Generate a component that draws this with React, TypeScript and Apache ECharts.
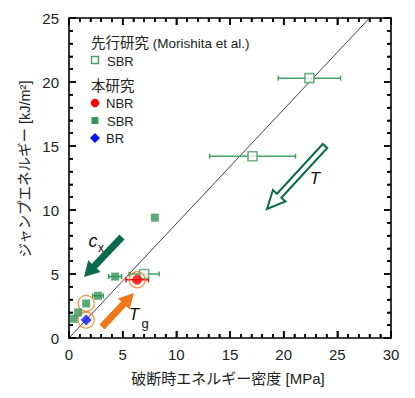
import React, { useEffect, useRef } from "react";
import * as echarts from "echarts";

// Previous study (Morishita et al.) SBR — open squares with x error bars
const prevSbrX = [22.4, 17.1, 7.0];
const prevSbrY = [20.3, 14.2, 5.0];
const prevSbrXErr = [2.9, 4.0, 1.4];

// This study
const nbrX = [6.35];
const nbrY = [4.55];
const nbrXErr = [1.05];

const sbrX = [8.0, 4.3, 2.7, 1.6, 0.85, 0.45];
const sbrY = [9.4, 4.8, 3.3, 2.7, 2.0, 1.5];
const sbrXErr = [0, 0.6, 0.5, 0, 0, 0];

const brX = [1.6];
const brY = [1.4];

// Highlighted points (orange rings)
const ringX = [6.35, 1.6, 1.6];
const ringY = [4.55, 2.7, 1.4];

// Reference line y = k x
const refSlope = 0.893;
const refLineX = [0, 30];

const xTickLabels = ["0", "5", "10", "15", "20", "25", "30"];
const yTickLabels = ["0", "5", "10", "15", "20", "25"];

const LATIN = "'Liberation Sans', Arial, sans-serif";
const CJK = "'Liberation Sans', 'Noto Sans CJK JP', sans-serif";

const GREEN_OPEN = "#46a167";
const GREEN_FILL = "#379457";
const DARK_GREEN = "#0c6a4c";
const ORANGE = "#f0781c";

const GRID = { left: 69, right: 24, top: 18, bottom: 60 };
const W = 415;
const H = 398;

function arrowPts(
  tail: number[],
  tip: number[],
  shaftW: number,
  headW: number,
  headL: number
): number[][] {
  const dx = tip[0] - tail[0];
  const dy = tip[1] - tail[1];
  const len = Math.sqrt(dx * dx + dy * dy);
  const ux = dx / len;
  const uy = dy / len;
  const nx = -uy;
  const ny = ux;
  const bx = tip[0] - ux * headL;
  const by = tip[1] - uy * headL;
  const s = shaftW / 2;
  const h = headW / 2;
  return [
    [tail[0] + nx * s, tail[1] + ny * s],
    [bx + nx * s, by + ny * s],
    [bx + nx * h, by + ny * h],
    [tip[0], tip[1]],
    [bx - nx * h, by - ny * h],
    [bx - nx * s, by - ny * s],
    [tail[0] - nx * s, tail[1] - ny * s],
  ];
}

function errorBarSeries(data: number[][], color: string, width: number) {
  return {
    type: "custom",
    xAxisIndex: 0,
    yAxisIndex: 0,
    z: 3,
    data,
    renderItem: (params: any, api: any) => {
      const x = api.value(0);
      const y = api.value(1);
      const e = api.value(2);
      const p1 = api.coord([x - e, y]);
      const p2 = api.coord([x + e, y]);
      const h = 2.5;
      const style = { stroke: color, lineWidth: width };
      return {
        type: "group",
        children: [
          { type: "line", shape: { x1: p1[0], y1: p1[1], x2: p2[0], y2: p2[1] }, style },
          { type: "line", shape: { x1: p1[0], y1: p1[1] - h, x2: p1[0], y2: p1[1] + h }, style },
          { type: "line", shape: { x1: p2[0], y1: p2[1] - h, x2: p2[0], y2: p2[1] + h }, style },
        ],
      };
    },
  };
}

// Tick marks inside the frame on all four sides, drawn with rects positioned via the axes' scales.
function tickSeries() {
  const xMax = Number(xTickLabels[xTickLabels.length - 1]);
  const yMax = Number(yTickLabels[yTickLabels.length - 1]);
  const majorX = xTickLabels.map(Number);
  const majorY = yTickLabels.map(Number);
  const data: number[][] = [];
  for (let v = 0; v <= xMax; v++) data.push([v, 0, majorX.includes(v) ? 1 : 0, 0]);
  for (let v = 0; v <= yMax; v++) data.push([0, v, majorY.includes(v) ? 1 : 0, 1]);
  return {
    type: "custom",
    xAxisIndex: 0,
    yAxisIndex: 0,
    z: 20,
    clip: false,
    dimensions: ["x", "y", "major", "axis"],
    encode: { x: 0, y: 1 },
    data,
    renderItem: (params: any, api: any) => {
      const cs = params.coordSys;
      const isMajor = api.value(2) === 1;
      const isX = api.value(3) === 0;
      const len = isMajor ? 7 : 4;
      const w = 1.5;
      const style = { fill: "#000" };
      if (isX) {
        const px = api.coord([api.value(0), 0])[0];
        const b = cs.y + cs.height;
        const t = cs.y;
        return {
          type: "group",
          children: [
            { type: "rect", shape: { x: px - w / 2, y: b - len, width: w, height: len }, style },
            { type: "rect", shape: { x: px - w / 2, y: t, width: w, height: len }, style },
          ],
        };
      }
      const py = api.coord([0, api.value(1)])[1];
      const l = cs.x;
      const r = cs.x + cs.width;
      return {
        type: "group",
        children: [
          { type: "rect", shape: { x: l, y: py - w / 2, width: len, height: w }, style },
          { type: "rect", shape: { x: r - len, y: py - w / 2, width: len, height: w }, style },
        ],
      };
    },
  };
}

function makeAxis(max: number, position: string, showLabels: boolean, labels: string[]) {
  return {
    type: "value",
    min: 0,
    max,
    interval: 5,
    position,
    splitLine: { show: false },
    axisLine: { show: true, onZero: false, lineStyle: { color: "#000", width: 1.6 } },
    axisTick: { show: true, inside: true, length: 7, lineStyle: { color: "#000", width: 1.5 } },
    minorTick: { show: true, splitNumber: 5, length: 4, lineStyle: { color: "#000", width: 1.5 } },
    axisLabel: showLabels
      ? {
          show: true,
          margin: position === "left" ? 10 : 9,
          fontSize: 15,
          fontFamily: LATIN,
          color: "#222",
          formatter: (v: number) => labels[Math.round(v / 5)] ?? "",
        }
      : { show: false },
  };
}

export default function App() {
  const ref = useRef<HTMLDivElement>(null);

  useEffect(() => {
    if (!ref.current) return;
    const chart = echarts.init(ref.current, null, { renderer: "svg" });

    const prevErr = prevSbrX.map((x, i) => [x, prevSbrY[i], prevSbrXErr[i]]);
    const sbrErr = sbrX
      .map((x, i) => [x, sbrY[i], sbrXErr[i]])
      .filter((d) => d[2] > 0);
    const nbrErr = nbrX.map((x, i) => [x, nbrY[i], nbrXErr[i]]);

    const cxTail = [122, 237];
    const cxTip = [84, 277];
    const tgTail = [102, 327];
    const tgTip = [134, 293];
    const tTail = [325, 146];
    const tTip = [267, 209];

    const legendX = 95;

    const annotations: any[] = [
      {
        type: "text",
        x: 228,
        y: 378,
        style: {
          text: "破断時エネルギー密度 [MPa]",
          font: `15px ${CJK}`,
          fill: "#222",
          align: "center",
          verticalAlign: "middle",
        },
      },
      {
        type: "text",
        x: 25,
        y: 169,
        rotation: Math.PI / 2,
        style: {
          text: "ジャンプエネルギー [kJ/m²]",
          font: `14.5px ${CJK}`,
          fill: "#222",
          align: "center",
          verticalAlign: "middle",
        },
      },
      {
        type: "text",
        x: 91,
        y: 43,
        style: {
          text: "{c|先行研究}{l| (Morishita et al.)}",
          rich: {
            c: { fontSize: 14.5, fontFamily: CJK, fill: "#222" },
            l: { fontSize: 13.5, fontFamily: LATIN, fill: "#222" },
          },
          verticalAlign: "middle",
        },
      },
      {
        type: "rect",
        shape: { x: legendX - 3.5, y: 60 - 3.5, width: 7, height: 7 },
        style: { fill: "#fff", stroke: GREEN_OPEN, lineWidth: 1.4 },
      },
      {
        type: "text",
        x: 107,
        y: 61,
        style: { text: "SBR", font: `13px ${LATIN}`, fill: "#222", verticalAlign: "middle" },
      },
      {
        type: "text",
        x: 91,
        y: 86,
        style: { text: "本研究", font: `14.5px ${CJK}`, fill: "#222", verticalAlign: "middle" },
      },
      {
        type: "circle",
        shape: { cx: legendX, cy: 103, r: 4.2 },
        style: { fill: "#ff0000" },
      },
      {
        type: "text",
        x: 106,
        y: 103,
        style: { text: "NBR", font: `13px ${LATIN}`, fill: "#222", verticalAlign: "middle" },
      },
      {
        type: "rect",
        shape: { x: legendX - 3.5, y: 120.5 - 3.5, width: 7, height: 7 },
        style: { fill: GREEN_FILL },
      },
      {
        type: "text",
        x: 107,
        y: 121,
        style: { text: "SBR", font: `13px ${LATIN}`, fill: "#222", verticalAlign: "middle" },
      },
      {
        type: "polygon",
        shape: {
          points: [
            [legendX, 133],
            [legendX + 5, 138],
            [legendX, 143],
            [legendX - 5, 138],
          ],
        },
        style: { fill: "#0a14f0" },
      },
      {
        type: "text",
        x: 106,
        y: 138,
        style: { text: "BR", font: `13px ${LATIN}`, fill: "#222", verticalAlign: "middle" },
      },
      {
        type: "polygon",
        z: 10,
        shape: { points: arrowPts(cxTail, cxTip, 7, 17, 15) },
        style: { fill: DARK_GREEN },
      },
      {
        type: "polygon",
        z: 10,
        shape: { points: arrowPts(tgTail, tgTip, 7, 16, 15) },
        style: { fill: ORANGE },
      },
      {
        type: "polygon",
        z: 10,
        shape: { points: arrowPts(tTail, tTip, 6, 17, 18) },
        style: { fill: "#fff", stroke: DARK_GREEN, lineWidth: 2 },
      },
      {
        type: "text",
        x: 93,
        y: 241,
        style: { text: "c", font: `italic 18px ${LATIN}`, fill: "#111", align: "center", verticalAlign: "middle" },
      },
      {
        type: "text",
        x: 101,
        y: 248,
        style: { text: "x", font: `12px ${LATIN}`, fill: "#111", align: "center", verticalAlign: "middle" },
      },
      {
        type: "text",
        x: 134,
        y: 314,
        style: { text: "T", font: `italic 17px ${LATIN}`, fill: "#111", align: "center", verticalAlign: "middle" },
      },
      {
        type: "text",
        x: 145,
        y: 323,
        style: { text: "g", font: `13px ${LATIN}`, fill: "#111", align: "center", verticalAlign: "middle" },
      },
      {
        type: "text",
        x: 315,
        y: 178,
        style: { text: "T", font: `italic 17px ${LATIN}`, fill: "#111", align: "center", verticalAlign: "middle" },
      },
    ];

    chart.setOption({
      animation: false,
      grid: { ...GRID, containLabel: false },
      xAxis: [
        makeAxis(30, "bottom", true, xTickLabels),
        makeAxis(30, "top", false, xTickLabels),
      ],
      yAxis: [
        makeAxis(25, "left", true, yTickLabels),
        makeAxis(25, "right", false, yTickLabels),
      ],
      series: [
        {
          type: "line",
          data: refLineX.map((x) => [x, x * refSlope]),
          symbol: "none",
          clip: true,
          lineStyle: { color: "#111", width: 0.8 },
          z: 1,
        },
        errorBarSeries(prevErr, GREEN_OPEN, 1.5),
        errorBarSeries(sbrErr, GREEN_FILL, 1.5),
        errorBarSeries(nbrErr, "#ee1111", 1.5),
        {
          type: "scatter",
          data: prevSbrX.map((x, i) => [x, prevSbrY[i]]),
          symbol: "rect",
          symbolSize: 9,
          itemStyle: { color: "#fff", borderColor: GREEN_OPEN, borderWidth: 1.6 },
          z: 4,
        },
        {
          type: "scatter",
          data: ringX.map((x, i) => [x, ringY[i]]),
          symbol: "circle",
          symbolSize: 16,
          itemStyle: { color: "rgba(255,255,255,0)", borderColor: ORANGE, borderWidth: 1.3 },
          z: 5,
        },
        {
          type: "scatter",
          data: sbrX.map((x, i) => [x, sbrY[i]]),
          symbol: "rect",
          symbolSize: 8,
          itemStyle: { color: GREEN_FILL },
          z: 6,
        },
        {
          type: "scatter",
          data: nbrX.map((x, i) => [x, nbrY[i]]),
          symbol: "circle",
          symbolSize: 10,
          itemStyle: { color: "#ff0000" },
          z: 6,
        },
        {
          type: "scatter",
          data: brX.map((x, i) => [x, brY[i]]),
          symbol: "diamond",
          symbolSize: 11,
          itemStyle: { color: "#0a14f0" },
          z: 6,
        },
        tickSeries(),
      ],
      graphic: annotations,
    });

    return () => chart.dispose();
  }, []);

  return <div ref={ref} style={{ width: W, height: H, position: "absolute", left: 0, top: 0 }} />;
}
